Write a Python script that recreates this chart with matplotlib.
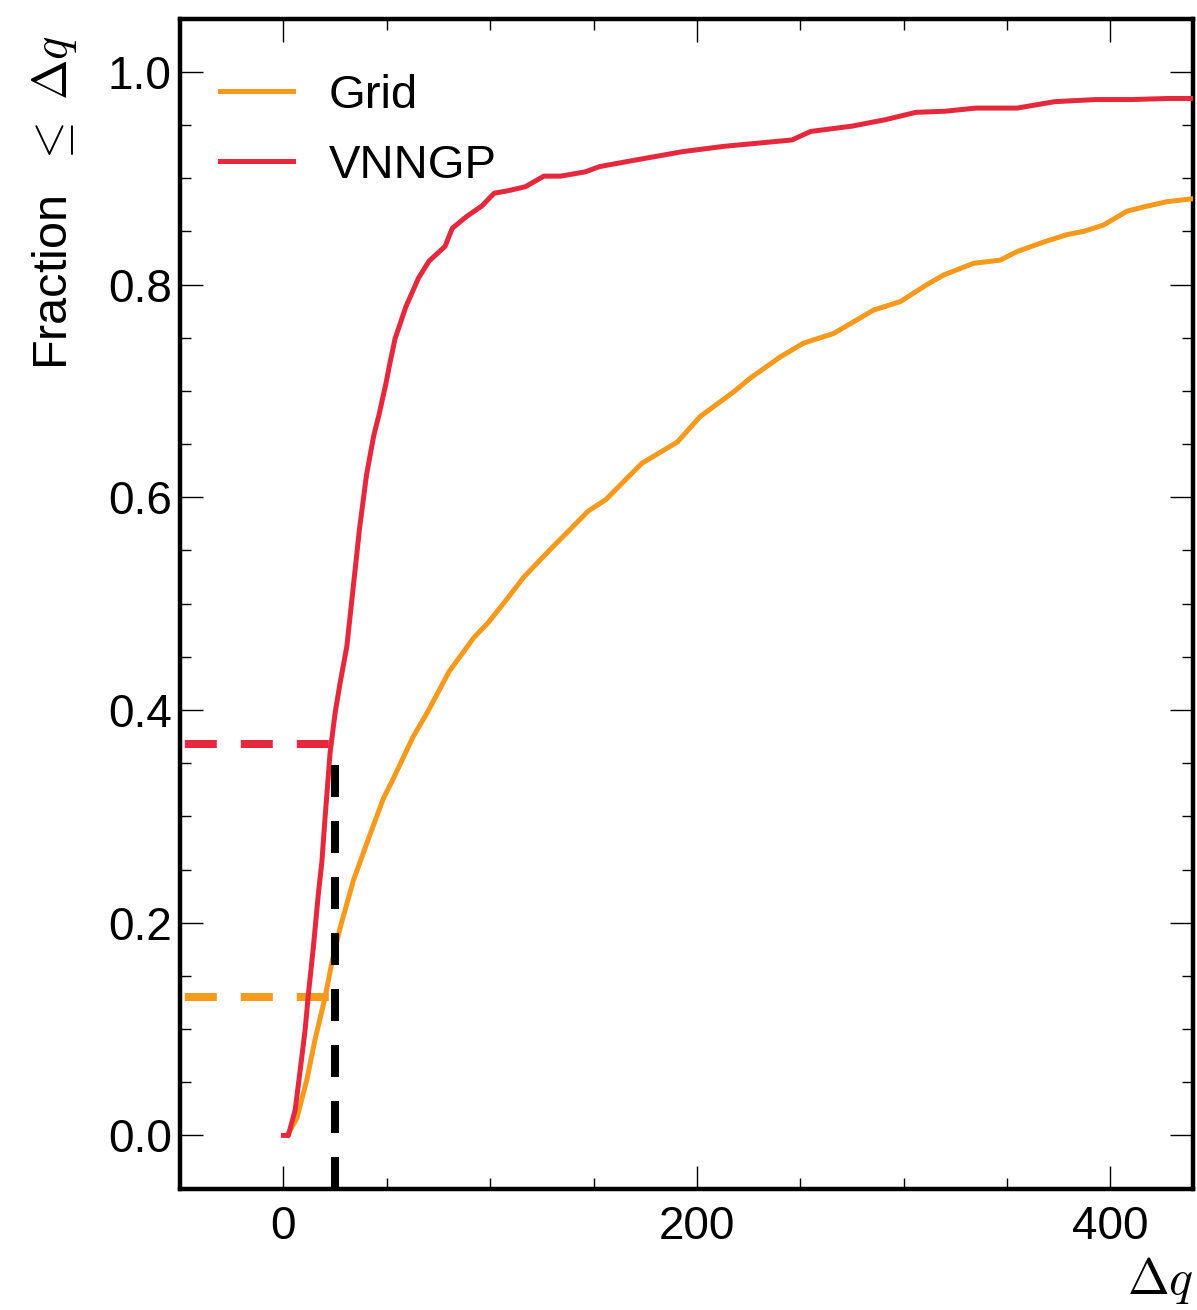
import matplotlib
matplotlib.use("Agg")
import matplotlib.pyplot as plt
from matplotlib.ticker import MultipleLocator

plt.rcParams['font.family'] = ['Liberation Sans', 'DejaVu Sans']
plt.rcParams['mathtext.fontset'] = 'cm'

# ---- data ----
grid_x = [2.0, 2.4, 6.5, 11.3, 15.3, 20.2, 23.4, 27.4, 33.9, 41.9, 48.4, 52.3, 62.8, 69.7,
          80.1, 92.1, 99.0, 107.6, 116.3, 130.1, 138.8, 147.4, 156.1, 164.7, 173.4, 190.6,
          201.6, 217.7, 225.8, 240.3, 251.6, 266.1, 275.8, 285.4, 298.4, 311.3, 319.3, 333.8,
          346.7, 354.8, 367.7, 379.0, 387.0, 396.7, 408.0, 416.1, 427.4, 441.0]
grid_y = [0.0, 0.002, 0.016, 0.052, 0.09, 0.13, 0.162, 0.195, 0.24, 0.283, 0.317, 0.332,
          0.375, 0.398, 0.436, 0.468, 0.482, 0.503, 0.525, 0.553, 0.570, 0.587, 0.598, 0.615,
          0.632, 0.652, 0.676, 0.699, 0.712, 0.732, 0.745, 0.754, 0.765, 0.776, 0.784, 0.800,
          0.809, 0.820, 0.823, 0.831, 0.840, 0.847, 0.850, 0.856, 0.869, 0.873, 0.878, 0.881]

vnngp_x = [0.0, 2.4, 5.7, 8.1, 10.5, 12.1, 14.5, 16.9, 18.6, 20.2, 22.6, 25.0, 27.4, 30.7,
           34.2, 36.8, 40.2, 43.7, 46.3, 49.7, 51.4, 54.0, 59.2, 65.3, 70.4, 78.2, 81.7, 88.6,
           96.0, 102.0, 108.0, 117.0, 126.0, 134.0, 146.0, 153.0, 170.0, 193.0, 213.0, 246.0,
           255.0, 275.0, 291.0, 306.0, 320.0, 335.0, 355.0, 373.0, 393.0, 410.0, 428.0, 441.0]
vnngp_y = [0.0, 0.0, 0.024, 0.061, 0.099, 0.133, 0.177, 0.227, 0.257, 0.300, 0.360, 0.397,
           0.425, 0.460, 0.523, 0.570, 0.621, 0.658, 0.678, 0.708, 0.725, 0.749, 0.779, 0.806,
           0.822, 0.836, 0.853, 0.864, 0.874, 0.886, 0.888, 0.892, 0.902, 0.902, 0.906, 0.911,
           0.917, 0.925, 0.930, 0.936, 0.944, 0.949, 0.955, 0.962, 0.963, 0.966, 0.966, 0.972,
           0.974, 0.974, 0.975, 0.975]

threshold = 25
frac_grid = 0.13
frac_vnngp = 0.368

labels = ['Grid', 'VNNGP']
colors = ['#f7991c', '#e6283d']

xlim = (-50, 440)
ylim = (-0.05, 1.05)

# ---- figure ----
fig = plt.figure(figsize=(11.97, 13.10), dpi=100)
ax = fig.add_axes([0.1504, 0.0927, 0.9967 - 0.1504, 0.9857 - 0.0927])

lw = 3.6
ax.plot(grid_x, grid_y, color=colors[0], lw=lw, label=labels[0], zorder=3)
ax.plot(vnngp_x, vnngp_y, color=colors[1], lw=lw, label=labels[1], zorder=3)

dlw = 5.76
ax.plot([xlim[0], threshold], [frac_vnngp, frac_vnngp], color=colors[1], lw=dlw,
        linestyle=(6.4, (4, 3)), zorder=2)
ax.plot([xlim[0], threshold], [frac_grid, frac_grid], color=colors[0], lw=dlw,
        linestyle=(6.4, (4, 3)), zorder=2)
ax.plot([threshold, threshold], [ylim[0], frac_vnngp], color='black', lw=dlw,
        linestyle=(0, (4, 3)), zorder=4)

ax.set_xlim(*xlim)
ax.set_ylim(*ylim)

ax.xaxis.set_major_locator(MultipleLocator(200))
ax.xaxis.set_minor_locator(MultipleLocator(50))
ax.yaxis.set_major_locator(MultipleLocator(0.2))
ax.yaxis.set_minor_locator(MultipleLocator(0.05))

for s in ax.spines.values():
    s.set_linewidth(3.2)

ax.tick_params(which='both', direction='in', top=True, right=True, width=1.0)
ax.tick_params(which='major', length=16.5, labelsize=33)
ax.tick_params(which='minor', length=8)
ax.tick_params(axis='x', which='major', pad=12)
ax.tick_params(axis='y', which='major', pad=6)

ax.set_xlabel(r'$\Delta q$', fontsize=36, loc='right')
ax.set_ylabel(r'Fraction $\ \leq\;\Delta q$', fontsize=35, loc='top')
ax.yaxis.set_label_coords(-0.100, 0.986)

ax.legend(loc='upper left', frameon=False, fontsize=34, handlelength=1.55,
          handletextpad=0.75, labelspacing=0.55, borderaxespad=0.0,
          bbox_to_anchor=(0.021, 0.969))

fig.savefig('out.png', dpi=100)
